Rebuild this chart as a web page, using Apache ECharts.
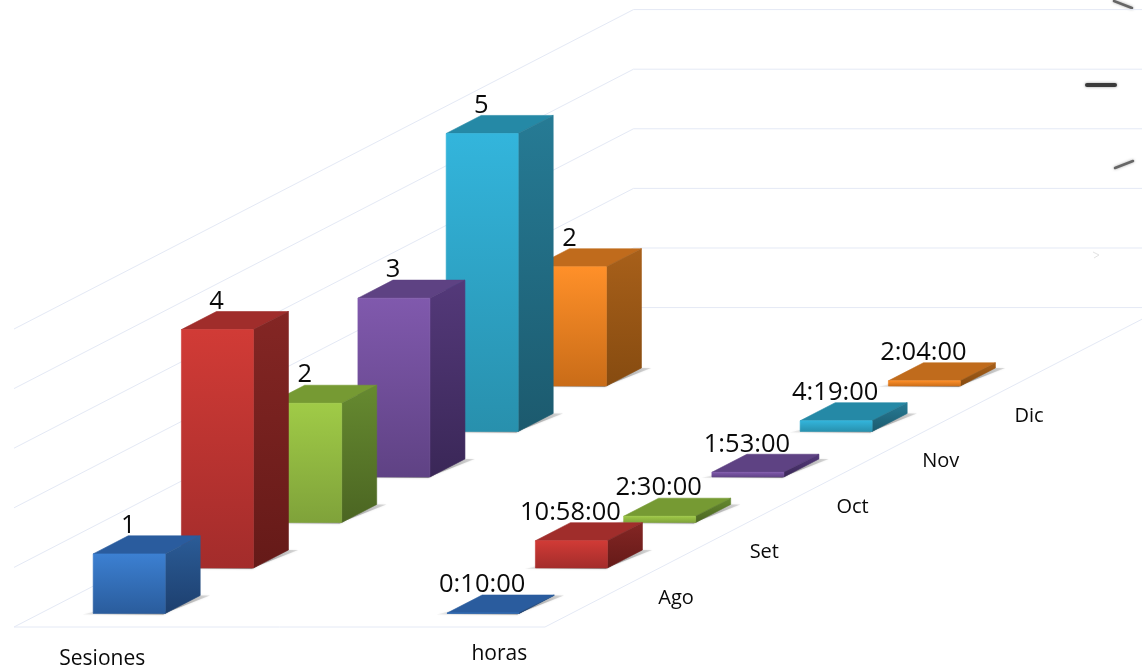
<!DOCTYPE html>
<html>
<head>
<meta charset="utf-8">
<style>html,body{margin:0;padding:0;background:#fff}#c{width:1142px;height:666px}</style>
<script src="https://cdn.jsdelivr.net/npm/echarts@6/dist/echarts.min.js"></script>
</head>
<body>
<div id="c"></div>
<script>
const months = ['Ago', 'Set', 'Oct', 'Nov', 'Dic'];
const groups = ['Sesiones', 'horas'];
const sesiones = [1, 4, 2, 3, 5, 2];
const horas = ['0:10:00', '10:58:00', '2:30:00', '1:53:00', '4:19:00', '2:04:00'];
const levels = [0, 1, 2, 3, 4, 5];

// front top, front bottom, side top, side bottom, top face
const palette = [
  ['#3c80d2', '#2a5c9c', '#2b5c97', '#1d3f6e', '#2a5c9e'],
  ['#d13b36', '#a32c2b', '#842624', '#651a18', '#a02d2b'],
  ['#a0cb47', '#7fa23a', '#668a30', '#4b6522', '#769a33'],
  ['#8059ad', '#5f4284', '#54397a', '#3a2757', '#5e4283'],
  ['#33b5dc', '#2890ad', '#267b95', '#1c5a6e', '#2589a6'],
  ['#ff9029', '#c96c18', '#a8601a', '#864b10', '#c06b1c']
];

const unitX = 88.25, unitY = 59.6;           // one depth step / one value unit, in px of the plot
const depthSlope = 45.5 / unitY;
const floorL = 14 / unitX, floorH = 39 / unitY;
const groupL = [0.6, 4.611];
const barW = 0.816, barD = 0.397, firstD = 0.297;
const floorW = 6.017, floorDepth = 7.02, wallRight = 5.78;

function days(t) { const p = t.split(':').map(Number); return (p[0] * 60 + p[1]) / 1440; }

const barData = [];
[0, 1].forEach(g => {
  for (let m = 5; m >= 0; m--) {
    barData.push([g, m, g === 0 ? sesiones[m] : days(horas[m]), g === 0 ? String(sesiones[m]) : horas[m]]);
  }
});

function ptFn(api) {
  return (l, d, h) => api.coord([floorL + l + d, floorH + h + d * depthSlope]);
}
function vgrad(a, b) { return new echarts.graphic.LinearGradient(0, 0, 0, 1, [{offset: 0, color: a}, {offset: 1, color: b}]); }
function hgrad(a, b) { return new echarts.graphic.LinearGradient(0, 0, 1, 0, [{offset: 0, color: a}, {offset: 1, color: b}]); }

function renderGrid(params, api) {
  const pt = ptFn(api), k = api.value(0);
  const style = {stroke: '#e4e9f5', lineWidth: 1, fill: null};
  const seg = (a, b) => ({type: 'line', shape: {x1: a[0], y1: a[1], x2: b[0], y2: b[1]}, style});
  const kids = [
    seg(pt(0, 0, k), pt(0, floorDepth, k)),
    seg(pt(0, floorDepth, k), pt(wallRight, floorDepth, k))
  ];
  if (k === 0) {
    kids.push(seg(pt(0, 0, 0), pt(floorW, 0, 0)));
    kids.push(seg(pt(floorW, 0, 0), pt(floorW, floorDepth, 0)));
  }
  return {type: 'group', children: kids};
}

function renderBar(params, api) {
  const pt = ptFn(api), g = api.value(0), m = api.value(1), v = api.value(2);
  const L = groupL[g], D = firstD + m, c = palette[m], R = L + barW, B = D + barD;
  const shadowFront = [pt(L - 0.1, D - 0.02, 0), pt(R, D - 0.02, 0), pt(R, D + 0.05, 0), pt(L - 0.02, D + 0.05, 0)];
  const shadowSide = [pt(R - 0.02, D - 0.02, 0), pt(R + 0.11, B, 0), pt(R - 0.02, B, 0)];
  const side = vgrad(c[2], c[3]), front = vgrad(c[0], c[1]);
  return {type: 'group', children: [
    {type: 'polygon', shape: {points: shadowFront}, style: {fill: hgrad('rgba(150,150,150,0.1)', '#8c8c8c'), shadowBlur: 2, shadowColor: 'rgba(0,0,0,0.25)'}},
    {type: 'polygon', shape: {points: shadowSide}, style: {fill: hgrad('#8c8c8c', 'rgba(170,170,170,0.35)'), shadowBlur: 2, shadowColor: 'rgba(0,0,0,0.2)'}},
    {type: 'polygon', shape: {points: [pt(L, D, v), pt(L, B, v), pt(R, B, v), pt(R, D, v)]}, style: {fill: c[4], stroke: c[4], lineWidth: 0.6}},
    {type: 'polygon', shape: {points: [pt(R, D, 0), pt(R, D, v), pt(R, B, v), pt(R, B, 0)]}, style: {fill: side, stroke: side, lineWidth: 0.6}},
    {type: 'polygon', shape: {points: [pt(L, D, 0), pt(L, D, v), pt(R, D, v), pt(R, D, 0)]}, style: {fill: front, stroke: front, lineWidth: 0.6}}
  ]};
}

const font = 'Open Sans';
function renderValueLabel(params, api) {
  const pt = ptFn(api), g = api.value(0), m = api.value(1), v = api.value(2);
  const p = pt(groupL[g], firstD + m + barD, v);
  return {type: 'text', style: {text: barData[params.dataIndex][3], x: p[0], y: p[1] + 3, textAlign: 'center', textVerticalAlign: 'bottom',
    fontFamily: font, fontSize: 25.5, fill: '#0a0a0a'}};
}

function renderMonthLabel(params, api) {
  const pt = ptFn(api), m = api.value(0);
  const p = pt(6.865, 0.637 + m, 0);
  return {type: 'text', style: {text: months[m], x: p[0], y: p[1], textAlign: 'center', textVerticalAlign: 'middle',
    fontFamily: font, fontSize: 20, fill: '#0a0a0a'}};
}
const groupLabelPos = [[1.0, -0.53], [5.5, -0.45]];
function renderGroupLabel(params, api) {
  const pt = ptFn(api), g = api.value(0);
  const p = pt(groupLabelPos[g][0], 0, groupLabelPos[g][1]);
  return {type: 'text', style: {text: groups[g], x: p[0], y: p[1], textAlign: 'center', textVerticalAlign: 'middle',
    fontFamily: font, fontSize: 21, fill: '#0a0a0a'}};
}

const chart = echarts.init(document.getElementById('c'), null, {renderer: 'canvas'});
chart.setOption({
  animation: false,
  backgroundColor: '#fff',
  grid: {left: 0, right: 0, top: 0, bottom: 0},
  xAxis: {type: 'value', min: 0, max: 1142 / unitX, show: false},
  yAxis: {type: 'value', min: 0, max: 666 / unitY, show: false},
  graphic: [
    {type: 'line', shape: {x1: 1114, y1: 1, x2: 1132, y2: 8}, style: {stroke: '#666', lineWidth: 2.5, lineCap: 'round', shadowBlur: 3, shadowColor: '#aaa'}},
    {type: 'line', shape: {x1: 1087, y1: 85, x2: 1115, y2: 85}, style: {stroke: '#3a3a3a', lineWidth: 4, lineCap: 'round', shadowBlur: 3, shadowColor: '#999'}},
    {type: 'line', shape: {x1: 1115, y1: 168, x2: 1133, y2: 161}, style: {stroke: '#666', lineWidth: 2.5, lineCap: 'round', shadowBlur: 3, shadowColor: '#aaa'}},
    {type: 'polyline', shape: {points: [[1093, 252], [1099, 255], [1094, 258]]}, style: {stroke: '#e2e2e2', lineWidth: 1, fill: null}}
  ],
  series: [
    {type: 'custom', clip: true, silent: true, renderItem: renderGrid, data: levels.map(k => [k])},
    {type: 'custom', clip: false, silent: true, renderItem: renderBar, data: barData.map(d => d.slice(0, 3))},
    {type: 'custom', clip: false, silent: true, renderItem: renderValueLabel, data: barData.map(d => d.slice(0, 3))},
    {type: 'custom', clip: false, silent: true, renderItem: renderMonthLabel, data: months.map((_, i) => [i])},
    {type: 'custom', clip: false, silent: true, renderItem: renderGroupLabel, data: groups.map((_, i) => [i])}
  ]
});
</script>
</body>
</html>
